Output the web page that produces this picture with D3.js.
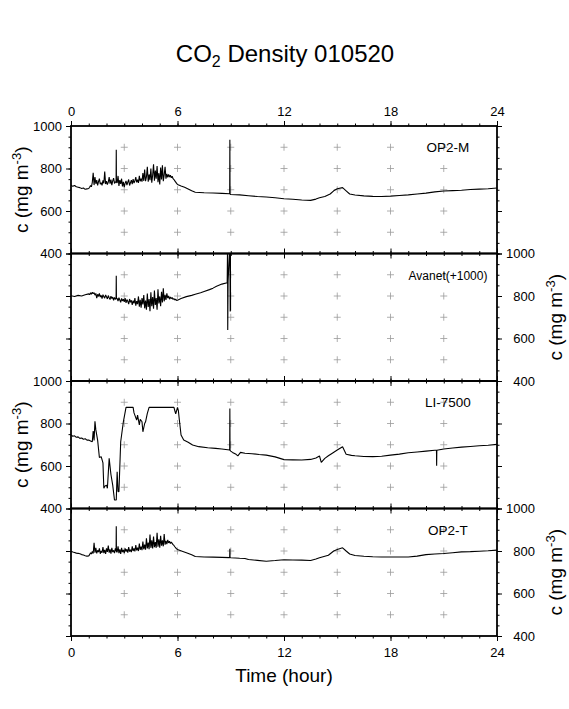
<!DOCTYPE html>
<html>
<head>
<meta charset="utf-8">
<script src="https://cdn.jsdelivr.net/npm/d3@7"></script>
<style>
  body { margin: 0; background: #fff; }
  text { font-family: "Liberation Sans", Arial, Helvetica, sans-serif; fill: #000; }
</style>
</head>
<body>
<div id="container"></div>
<script>
// ---- data: [hour, c (mg m-3)] ----
const op2m = [
  [0,722],[0.1,716],[0.2,720],[0.3,714],[0.4,712],[0.5,710],[0.6,706],[0.7,708],[0.8,702],[0.9,704],
  [1.00,706],[1.05,712],[1.10,720],[1.15,714],[1.20,735],[1.25,780],[1.30,722],[1.35,760],[1.40,728],[1.45,745],
  [1.50,720],[1.55,738],[1.60,752],[1.65,726],[1.70,733],[1.75,721],[1.80,744],[1.85,730],[1.90,786],[1.95,727],
  [2.00,741],[2.05,724],[2.10,736],[2.15,760],[2.20,729],[2.25,748],[2.30,722],[2.35,742],[2.40,755],[2.45,730],
  [2.50,738],[2.54,735],[2.55,888],[2.56,736],[2.60,732],[2.65,765],[2.70,718],[2.75,745],[2.80,728],[2.85,752],[2.90,716],[2.95,737],
  [3.00,712],[3.05,731],[3.10,742],[3.15,722],[3.20,736],[3.25,748],[3.30,720],[3.35,733],[3.40,745],[3.45,726],
  [3.50,750],[3.55,731],[3.60,742],[3.65,760],[3.70,735],[3.75,748],[3.80,732],[3.85,765],[3.90,740],[3.95,752],
  [4.00,738],[4.05,778],[4.10,742],[4.15,795],[4.20,740],[4.25,760],[4.30,808],[4.35,738],[4.40,772],[4.45,745],
  [4.50,800],[4.55,733],[4.60,768],[4.65,820],[4.70,742],[4.75,790],[4.80,752],[4.85,812],[4.90,736],[4.95,778],
  [5.00,725],[5.05,805],[5.10,748],[5.15,815],[5.20,740],[5.25,770],[5.30,808],[5.35,752],[5.40,775],[5.45,758],
  [5.50,772],[5.55,760],[5.60,768],[5.65,756],[5.70,764],[5.75,752],[5.80,748],[5.85,742],[5.90,736],[5.95,730],
  [6.0,725],[6.2,718],[6.4,712],[6.6,704],[6.8,695],[7.0,688],[7.5,686],
  [8.0,685],[8.5,683],[8.94,681],[8.95,935],[8.96,680],[9.0,678],[9.5,676],[10,672],[10.5,668],[11,666],[11.5,662],
  [12,658],[12.5,655],[13,652],[13.5,650],[13.8,656],[14,662],[14.3,668],[14.6,680],[14.8,695],[15.0,705],
  [15.3,710],[15.5,695],[15.7,680],[16,675],[16.5,671],[17,669],[17.5,668],[18,670],[18.5,673],[19,676],
  [19.5,680],[20,684],[20.5,690],[21,694],[21.5,696],[22,698],[22.5,701],[23,703],[23.5,705],[24,708]
];
const avanet = [
  [0,801],[0.2,798],[0.4,803],[0.6,800],[0.8,806],
  [1.00,810],[1.05,806],[1.10,815],[1.15,808],[1.20,818],[1.25,811],[1.30,816],[1.35,804],[1.40,812],[1.45,790],
  [1.50,808],[1.55,798],[1.60,812],[1.65,795],[1.70,803],[1.75,788],[1.80,806],[1.85,797],[1.90,790],[1.95,805],
  [2.00,796],[2.05,786],[2.10,802],[2.15,792],[2.20,783],[2.25,799],[2.30,788],[2.35,795],[2.40,780],[2.45,793],
  [2.50,785],[2.54,787],[2.55,895],[2.56,789],[2.60,788],[2.65,776],[2.70,792],[2.75,781],[2.80,770],[2.85,789],[2.90,777],[2.95,785],
  [3.00,772],[3.05,790],[3.10,768],[3.15,783],[3.20,775],[3.25,762],[3.30,786],[3.35,770],[3.40,780],[3.45,758],
  [3.50,778],[3.55,765],[3.60,790],[3.65,755],[3.70,776],[3.75,762],[3.80,798],[3.85,750],[3.90,782],[3.95,745],
  [4.00,790],[4.05,760],[4.10,805],[4.15,742],[4.20,778],[4.25,735],[4.30,812],[4.35,748],[4.40,786],[4.45,728],
  [4.50,818],[4.55,752],[4.60,795],[4.65,740],[4.70,826],[4.75,758],[4.80,790],[4.85,735],[4.90,832],[4.95,765],
  [5.00,798],[5.05,752],[5.10,820],[5.15,770],[5.20,836],[5.25,775],[5.30,805],[5.35,782],[5.40,812],[5.45,790],
  [5.50,800],[5.55,785],[5.60,795],[5.65,788],[5.70,793],[5.75,784],[5.80,788],[5.85,781],[5.90,785],[5.95,779],
  [6.0,780],[6.2,788],[6.5,797],[6.8,803],
  [7.0,808],[7.3,815],[7.5,821],[7.8,830],[8.0,837],[8.2,846],[8.5,856],[8.8,862],[8.82,1040],[8.83,640],
  [8.85,870],[8.95,1040],[8.97,727],[8.98,1040],[8.99,730]
];
const li7500 = [
  [0,746],[0.1,740],[0.2,742],[0.3,735],[0.4,737],[0.5,730],[0.6,732],[0.7,726],[0.8,728],[0.9,722],
  [1.0,722],[1.1,718],[1.2,714],[1.25,765],[1.3,720],[1.35,810],[1.4,770],[1.5,722],[1.6,640],[1.7,644],
  [1.8,615],[1.85,495],[1.9,505],[2.0,510],[2.05,495],[2.15,636],[2.25,560],[2.35,510],[2.45,440],[2.55,440],
  [2.6,573],[2.65,480],[2.7,479],[2.8,714],[2.95,808],[3.1,876],[3.5,876],[3.55,850],[3.7,816],[3.75,840],
  [3.85,793],[3.9,820],[4.0,808],[4.05,761],[4.15,800],[4.2,808],[4.3,848],[4.4,876],[5.8,876],[5.85,860],
  [5.9,845],[6.0,876],[6.05,860],[6.1,820],[6.2,746],[6.35,722],[6.6,712],[6.85,699],[7.2,691],[7.7,686],
  [8.15,683],[8.5,680],[8.94,675],[8.95,870],[8.96,674],[9.0,670],[9.1,664],[9.3,655],[9.4,648],[9.55,664],[9.8,660],
  [10.2,658],[10.6,654],[11,651],[11.5,643],[12,630],[12.5,629],[13,628],[13.5,631],[13.8,638],[14,647],
  [14.1,617],[14.3,636],[14.5,648],[14.7,659],[15,675],[15.3,691],[15.5,655],[15.8,650],[16,648],[16.5,645],
  [17,644],[17.5,646],[18,651],[18.5,656],[19,662],[19.5,666],[20,670],[20.5,674],[20.59,674],[20.6,601],[20.61,674],
  [21,680],[21.5,685],[22,689],[22.5,692],[23,695],[23.5,698],[24,702]
];
const op2t = [
  [0,799],[0.1,795],[0.2,793],[0.3,790],[0.4,789],[0.5,787],[0.6,783],[0.7,781],[0.8,778],[0.9,776],
  [1.00,777],[1.05,783],[1.10,792],[1.15,786],[1.20,798],[1.25,788],[1.30,839],[1.35,792],[1.40,815],[1.45,789],
  [1.50,803],[1.55,795],[1.60,812],[1.65,787],[1.70,800],[1.75,792],[1.80,818],[1.85,790],[1.90,805],[1.95,786],
  [2.00,812],[2.05,796],[2.10,825],[2.15,792],[2.20,808],[2.25,788],[2.30,815],[2.35,795],[2.40,803],[2.45,790],
  [2.50,812],[2.54,800],[2.55,917],[2.56,798],[2.60,794],[2.65,822],[2.70,790],[2.75,808],[2.80,786],[2.85,815],[2.90,795],[2.95,805],
  [3.00,790],[3.05,812],[3.10,798],[3.15,808],[3.20,792],[3.25,818],[3.30,797],[3.35,806],[3.40,795],[3.45,822],
  [3.50,800],[3.55,812],[3.60,798],[3.65,828],[3.70,803],[3.75,816],[3.80,800],[3.85,835],[3.90,806],[3.95,820],
  [4.00,804],[4.05,845],[4.10,808],[4.15,830],[4.20,806],[4.25,860],[4.30,812],[4.35,840],[4.40,808],[4.45,878],
  [4.50,815],[4.55,850],[4.60,812],[4.65,868],[4.70,818],[4.75,842],[4.80,815],[4.85,886],[4.90,820],[4.95,855],
  [5.00,816],[5.05,872],[5.10,825],[5.15,850],[5.20,822],[5.25,880],[5.30,830],[5.35,848],[5.40,832],[5.45,852],
  [5.50,838],[5.55,846],[5.60,835],[5.65,842],[5.70,836],[5.75,830],[5.80,826],[5.85,820],[5.90,815],[5.95,810],
  [6.0,807],[6.3,798],[6.5,792],[6.8,782],[7.0,774],[7.5,772],[8.0,771],[8.5,770],
  [8.94,769],[8.95,810],[8.96,769],[9.0,768],[9.5,766],[9.8,765],[10,760],[10.5,756],[11,752],[11.5,755],[12,759],
  [12.5,758],[13,757],[13.5,755],[13.8,762],[14,768],[14.5,780],[14.8,800],[15,807],[15.3,815],[15.5,800],
  [15.7,786],[16,779],[16.5,775],[17,773],[17.5,772],[18,772],[18.5,772],[19,772],[19.5,776],[20,783],
  [20.5,786],[21,788],[21.5,792],[22,796],[22.5,797],[23,799],[23.5,801],[24,804]
];

const seriesNames = ["OP2-M", "Avanet(+1000)", "LI-7500", "OP2-T"];
const hourTicks = [0, 6, 12, 18, 24];
const cTicks = [400, 600, 800, 1000];
const crossHours = [3, 6, 9, 12, 15, 18, 21];
const crossValues = [500, 600, 700, 800, 900];

// ---- layout ----
const width = 569, height = 709;
const left = 71, right = 497;
const top0 = 126, panelH = 127.5;

const svg = d3.select('#container').append('svg')
  .attr('width', width).attr('height', height);

const x = d3.scaleLinear().domain([0, 24]).range([left, right]);
const minorHours = d3.range(0, 25, 1);
const minorC = d3.range(400, 1001, 50);

svg.append('text')
  .attr('x', 285).attr('y', 62)
  .attr('text-anchor', 'middle')
  .style('font-size', '24px')
  .html('CO<tspan dy="5" font-size="16px">2</tspan><tspan dy="-5"> Density 010520</tspan>');

const panels = [op2m, avanet, li7500, op2t];

panels.forEach((data, i) => {
  const t = top0 + i * panelH;
  const y = d3.scaleLinear().domain([400, 1000]).range([t + panelH, t]);
  const g = svg.append('g');
  const labelLeft = (i % 2 === 0);

  // crosses
  const cross = [];
  crossHours.forEach(h => crossValues.forEach(v => cross.push([h, v])));
  g.append('g').selectAll('path')
    .data(cross).enter().append('path')
    .attr('d', d => `M${x(d[0]) - 3.5},${y(d[1])}h7M${x(d[0])},${y(d[1]) - 3.5}v7`)
    .attr('stroke', '#9a9a9a').attr('stroke-width', 0.8).attr('fill', 'none');

  // data line
  g.append('clipPath').attr('id', 'clip' + i)
    .append('rect').attr('x', left).attr('y', t).attr('width', right - left).attr('height', panelH);
  g.append('path')
    .datum(data)
    .attr('clip-path', `url(#clip${i})`)
    .attr('d', d3.line().x(d => x(d[0])).y(d => y(d[1])))
    .attr('fill', 'none').attr('stroke', '#000').attr('stroke-width', 1.1)
    .attr('stroke-linejoin', 'bevel');

  // ticks on all four sides, outward
  const addAxis = (axis, tx, ty) => {
    const a = g.append('g').attr('transform', `translate(${tx},${ty})`).call(axis);
    a.select('.domain').remove();
    a.selectAll('line').attr('stroke', '#000');
    return a;
  };
  addAxis(d3.axisTop(x).tickValues(minorHours).tickSize(2.5).tickFormat(''), 0, t);
  addAxis(d3.axisBottom(x).tickValues(minorHours).tickSize(2.5).tickFormat(''), 0, t + panelH);
  addAxis(d3.axisLeft(y).tickValues(minorC).tickSize(2.5).tickFormat(''), left, 0);
  addAxis(d3.axisRight(y).tickValues(minorC).tickSize(2.5).tickFormat(''), right, 0);

  const top = addAxis(d3.axisTop(x).tickValues(hourTicks).tickSize(5).tickPadding(5)
    .tickFormat(i === 0 ? d3.format('d') : ''), 0, t);
  const bot = addAxis(d3.axisBottom(x).tickValues(hourTicks).tickSize(5).tickPadding(7)
    .tickFormat(i === 3 ? d3.format('d') : ''), 0, t + panelH);
  const lax = addAxis(d3.axisLeft(y).tickValues(cTicks).tickSize(5).tickPadding(4)
    .tickFormat(labelLeft ? d3.format('d') : ''), left, 0);
  const rax = addAxis(d3.axisRight(y).tickValues(cTicks).tickSize(5)
    .tickFormat(labelLeft ? '' : d3.format('d')), right, 0);
  rax.selectAll('text').attr('text-anchor', 'end').attr('x', 38);
  [top, bot, lax, rax].forEach(a => a.selectAll('text')
    .style('font-size', '13px').style('font-family', '"Liberation Sans", Arial, sans-serif').attr('fill', '#000'));

  // frame
  g.append('rect').attr('x', left).attr('y', t).attr('width', right - left).attr('height', panelH)
    .attr('fill', 'none').attr('stroke', '#000').attr('stroke-width', 1.8);

  // series label
  g.append('text')
    .attr('x', 448).attr('y', y(900) + 5)
    .attr('text-anchor', 'middle')
    .style('font-size', i === 1 ? '12px' : '13.5px')
    .text(seriesNames[i]);

  // y title
  const ty = t + panelH / 2;
  const tx = labelLeft ? 21 : 555;
  g.append('text')
    .attr('transform', `translate(${tx},${ty}) rotate(-90)`)
    .attr('text-anchor', 'middle')
    .attr('dy', '0.35em')
    .style('font-size', '19px')
    .html('c (mg m<tspan dy="-7" font-size="13px">-3</tspan><tspan dy="7">)</tspan>');
});

svg.append('text')
  .attr('x', 284).attr('y', 682)
  .attr('text-anchor', 'middle')
  .style('font-size', '19px')
  .text('Time (hour)');
</script>
</body>
</html>
